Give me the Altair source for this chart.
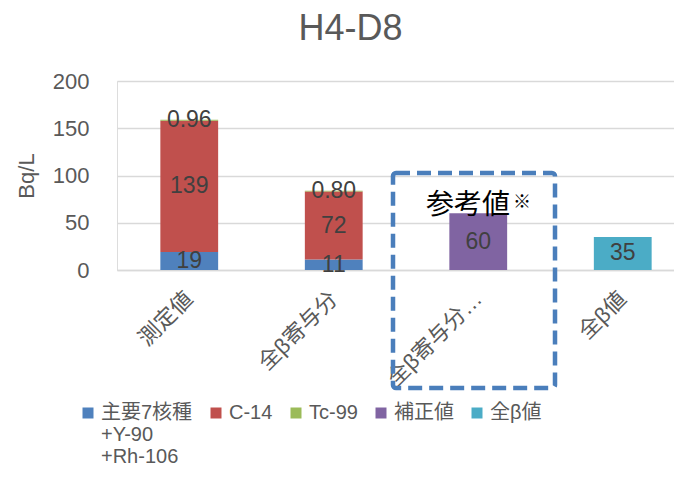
import altair as alt
import pandas as pd

# ---- data ----
categories = ["測定値", "全β寄与分", "全β寄与分…", "全β値"]
series = ["主要7核種|+Y-90|+Rh-106", "C-14", "Tc-99", "補正値", "全β値"]
colors = ["#4F81BD", "#C0504D", "#9BBB59", "#8064A2", "#4BACC6"]
main7 = [19, 11, None, None]
c14 = [139, 72, None, None]
tc99 = [0.96, 0.80, None, None]
hosei = [None, None, 60, None]
zenbeta = [None, None, None, 35]
y_ticks = [0, 50, 100, 150, 200]

rows = []
for si, (s, vals) in enumerate(zip(series, [main7, c14, tc99, hosei, zenbeta])):
    for c, v in zip(categories, vals):
        if v is not None:
            rows.append({"category": c, "series": s, "value": v, "order": si})
df = pd.DataFrame(rows)

FONT = "Liberation Sans, Noto Sans CJK JP, sans-serif"
GRAY = "#595959"

x_enc = alt.X(
    "category:N",
    sort=categories,
    scale=alt.Scale(domain=categories, range=[0, 578], paddingInner=0.6, paddingOuter=0.3),
    axis=alt.Axis(
        title=None, labelAngle=-45, labelFontSize=22, labelColor=GRAY, labelFont=FONT,
        ticks=False, tickSize=0, labelPadding=25, labelAlign="right", labelBaseline="middle",
        domainColor="#D9D9D9", domainWidth=1.5, grid=False,
    ),
)

y_scale = alt.Scale(domain=[0, 200], nice=False)

bars = alt.Chart(df).mark_bar().encode(
    x=x_enc,
    y=alt.Y(
        "value:Q", stack="zero", scale=y_scale,
        axis=alt.Axis(
            values=y_ticks, labelFontSize=22, labelColor=GRAY, labelFont=FONT,
            labelPadding=28, ticks=False, tickSize=0, domain=False,
            gridColor="#D9D9D9", gridWidth=1.5,
            title="Bq/L", titleFontSize=22, titleFont=FONT, titleFontWeight="normal",
            titleColor=GRAY, titleX=-84, titleY=94.5, titleAngle=-90,
            titleBaseline="alphabetic", titleAlign="center",
        ),
    ),
    color=alt.Color(
        "series:N",
        scale=alt.Scale(domain=series, range=colors),
        legend=alt.Legend(
            title=None, orient="none", legendX=-39, legendY=322,
            direction="horizontal", columns=5, columnPadding=13,
            labelFontSize=20, labelColor=GRAY, labelFont=FONT,
            symbolType="square", symbolSize=121, symbolStrokeWidth=0,
            labelOffset=3, labelLimit=400,
            labelExpr="indexof(datum.label, '|') >= 0 ? split(datum.label, '|') : split(datum.label + '||', '|')",
        ),
    ),
    order=alt.Order("order:Q", sort="ascending"),
)

labels = alt.Chart(df).transform_stack(
    stack="value", groupby=["category"], as_=["v0", "v1"],
    sort=[alt.SortField("order", order="ascending")],
).transform_calculate(
    mid="(datum.v0 + datum.v1) / 2",
    lab="datum.value < 1 ? format(datum.value, '.2f') : format(datum.value, 'd')",
).mark_text(fontSize=23, color="#404040", font=FONT, baseline="middle").encode(
    x=x_enc,
    y=alt.Y("mid:Q", scale=y_scale),
    text="lab:N",
)

one = pd.DataFrame({"a": [0]})
box = alt.Chart(one).mark_rect(
    filled=False, stroke="#4A7EBB", strokeWidth=4.5, strokeDash=[14, 7], cornerRadius=3,
).encode(x=alt.value(276), x2=alt.value(438), y=alt.value(92), y2=alt.value(307))

note = alt.Chart(one).mark_text(
    text="参考値", fontSize=28, font=FONT, color="black", baseline="middle", align="center",
).encode(x=alt.value(351), y=alt.value(125))

note_mark = alt.Chart(one).mark_text(
    text="※", fontSize=18, font=FONT, color="black", baseline="middle", align="center",
).encode(x=alt.value(405), y=alt.value(122))

chart = alt.layer(bars, labels, box, note, note_mark).properties(
    width=557, height=189,
    title=alt.TitleParams(
        "H4-D8", fontSize=36, color=GRAY, font=FONT, fontWeight="normal",
        anchor="middle", frame="group", dx=-45, offset=22,
    ),
    autosize=alt.AutoSizeParams(type="none"),
    padding={"left": 117, "top": 81, "right": 0, "bottom": 209},
).configure_view(stroke=None).configure(background="white")

chart.save("out.html", embed_options={"renderer": "svg", "actions": False})
